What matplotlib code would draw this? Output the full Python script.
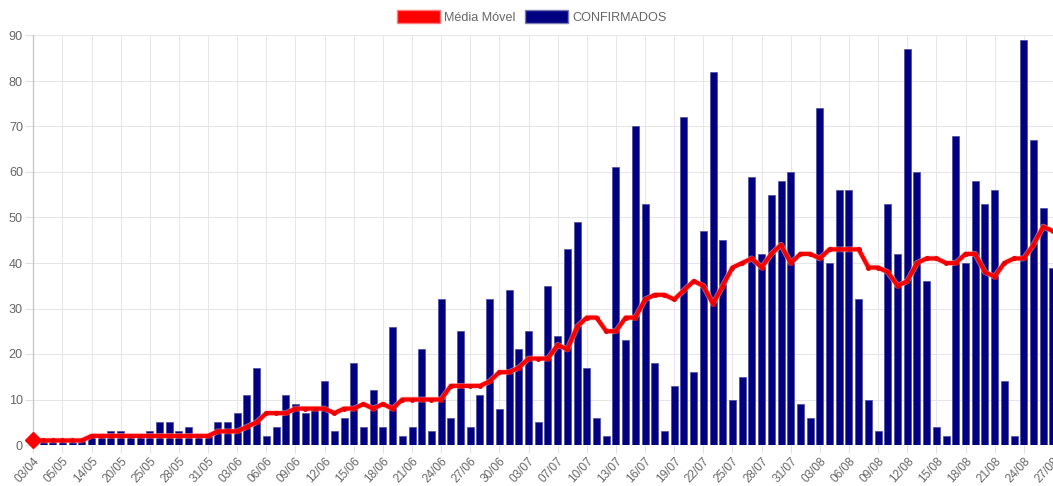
import matplotlib
matplotlib.use("Agg")
import matplotlib.pyplot as plt
import matplotlib.patheffects as pe
from matplotlib.patches import Patch

plt.rcParams["font.family"] = ["Liberation Sans", "DejaVu Sans"]

datas = [
    "03/04", "20/04", "28/04", "05/05", "08/05", "11/05", "14/05", "16/05", "18/05", "20/05", "22/05", "23/05",
    "25/05", "26/05", "27/05", "28/05", "29/05", "30/05", "31/05",
    "01/06", "02/06", "03/06", "04/06", "05/06", "06/06", "07/06", "08/06", "09/06", "10/06",
    "11/06", "12/06", "13/06", "14/06", "15/06", "16/06", "17/06", "18/06", "19/06", "20/06",
    "21/06", "22/06", "23/06", "24/06", "25/06", "26/06", "27/06", "28/06", "29/06", "30/06",
    "01/07", "02/07", "03/07", "05/07", "06/07",
    "07/07", "08/07", "09/07", "10/07", "11/07", "12/07", "13/07", "14/07", "15/07", "16/07",
    "17/07", "18/07", "19/07", "20/07", "21/07", "22/07", "23/07", "24/07", "25/07", "26/07",
    "27/07", "28/07", "29/07", "30/07", "31/07",
    "01/08", "02/08", "03/08", "04/08", "05/08", "06/08", "07/08", "08/08", "09/08", "10/08",
    "11/08", "12/08", "13/08", "14/08", "15/08", "16/08", "17/08", "18/08", "19/08", "20/08",
    "21/08", "22/08", "23/08", "24/08", "25/08", "26/08", "27/08",
]

confirmados = [
    1, 1, 1, 1, 1, 1, 2, 2, 3, 3, 2, 2, 3, 5, 5, 3, 4, 2, 2, 5,
    5, 7, 11, 17, 2, 4, 11, 9, 7, 8, 14, 3, 6, 18, 4, 12, 4, 26, 2, 4,
    21, 3, 32, 6, 25, 4, 11, 32, 8, 34, 21, 25, 5, 35, 24, 43, 49, 17, 6, 2,
    61, 23, 70, 53, 18, 3, 13, 72, 16, 47, 82, 45, 10, 15, 59, 42, 55, 58, 60, 9,
    6, 74, 40, 56, 56, 32, 10, 3, 53, 42, 87, 60, 36, 4, 2, 68, 40, 58, 53, 56,
    14, 2, 89, 67, 52, 39,
]

media_movel = [
    1, 1, 1, 1, 1, 1, 2, 2, 2, 2, 2, 2, 2, 2, 2, 2, 2, 2, 2, 3,
    3, 3, 4, 5, 7, 7, 7, 8, 8, 8, 8, 7, 8, 8, 9, 8, 9, 8, 10, 10,
    10, 10, 10, 13, 13, 13, 13, 14, 16, 16, 17, 19, 19, 19, 22, 21, 26, 28, 28, 25,
    25, 28, 28, 32, 33, 33, 32, 34, 36, 35, 31, 35, 39, 40, 41, 39, 42, 44, 40, 42,
    42, 41, 43, 43, 43, 43, 39, 39, 38, 35, 36, 40, 41, 41, 40, 40, 42, 42, 38, 37,
    40, 41, 41, 44, 48, 47,
]

W, H = 1053, 486
fig = plt.figure(figsize=(W / 100, H / 100), dpi=100)
ax = fig.add_axes([33.3 / W, 1 - 445 / H, (1052.9 - 33.3) / W, (445 - 35.5) / H])

x = list(range(len(datas)))
ax.bar(x, confirmados, width=0.72, color="#000080", edgecolor="#4b4ba0",
       linewidth=0.5, zorder=2)
ax.plot(x, media_movel, color="red", lw=3, zorder=3,
        path_effects=[pe.Stroke(linewidth=4.2, foreground="#f0b0b0", alpha=0.6), pe.Normal()])
ax.plot(x, media_movel, ls="none", marker="o", ms=2.5, color="#e80000", zorder=3.5)
ax.plot(x[0], media_movel[0], marker="D", ms=8, color="red", clip_on=False, zorder=4)

ax.set_xlim(0, len(datas) - 1)
ax.set_ylim(0, 90)
ax.set_yticks(range(0, 91, 10))
ax.set_xticks(x[::3])
ax.set_xticklabels(datas[::3], rotation=47, ha="right", rotation_mode="anchor")

ax.grid(True, color="#e6e6e6", lw=0.75, zorder=0)
ax.set_axisbelow(True)
for s in ["top", "right", "bottom"]:
    ax.spines[s].set_visible(False)
ax.spines["left"].set_color("#c4c4c4")
ax.spines["left"].set_linewidth(0.9)
ax.tick_params(axis="both", length=6, width=0.75, color="#e0e0e0",
               labelcolor="#666666", pad=1.5)
ax.tick_params(axis="y", labelsize=9.1)
ax.tick_params(axis="x", labelsize=8.5)

handles = [Patch(facecolor="red", edgecolor="#ff7a7a"),
           Patch(facecolor="#000080", edgecolor="#7a7ab8")]
fig.legend(handles, ["Média Móvel", "CONFIRMADOS"], loc="center",
           bbox_to_anchor=(532 / W, 1 - 17 / H), ncol=2, frameon=False,
           handlelength=3.4, handleheight=1.25, handletextpad=0.35,
           columnspacing=0.75, fontsize=9.1, labelcolor="#666666")

fig.savefig("out.png", dpi=100)
